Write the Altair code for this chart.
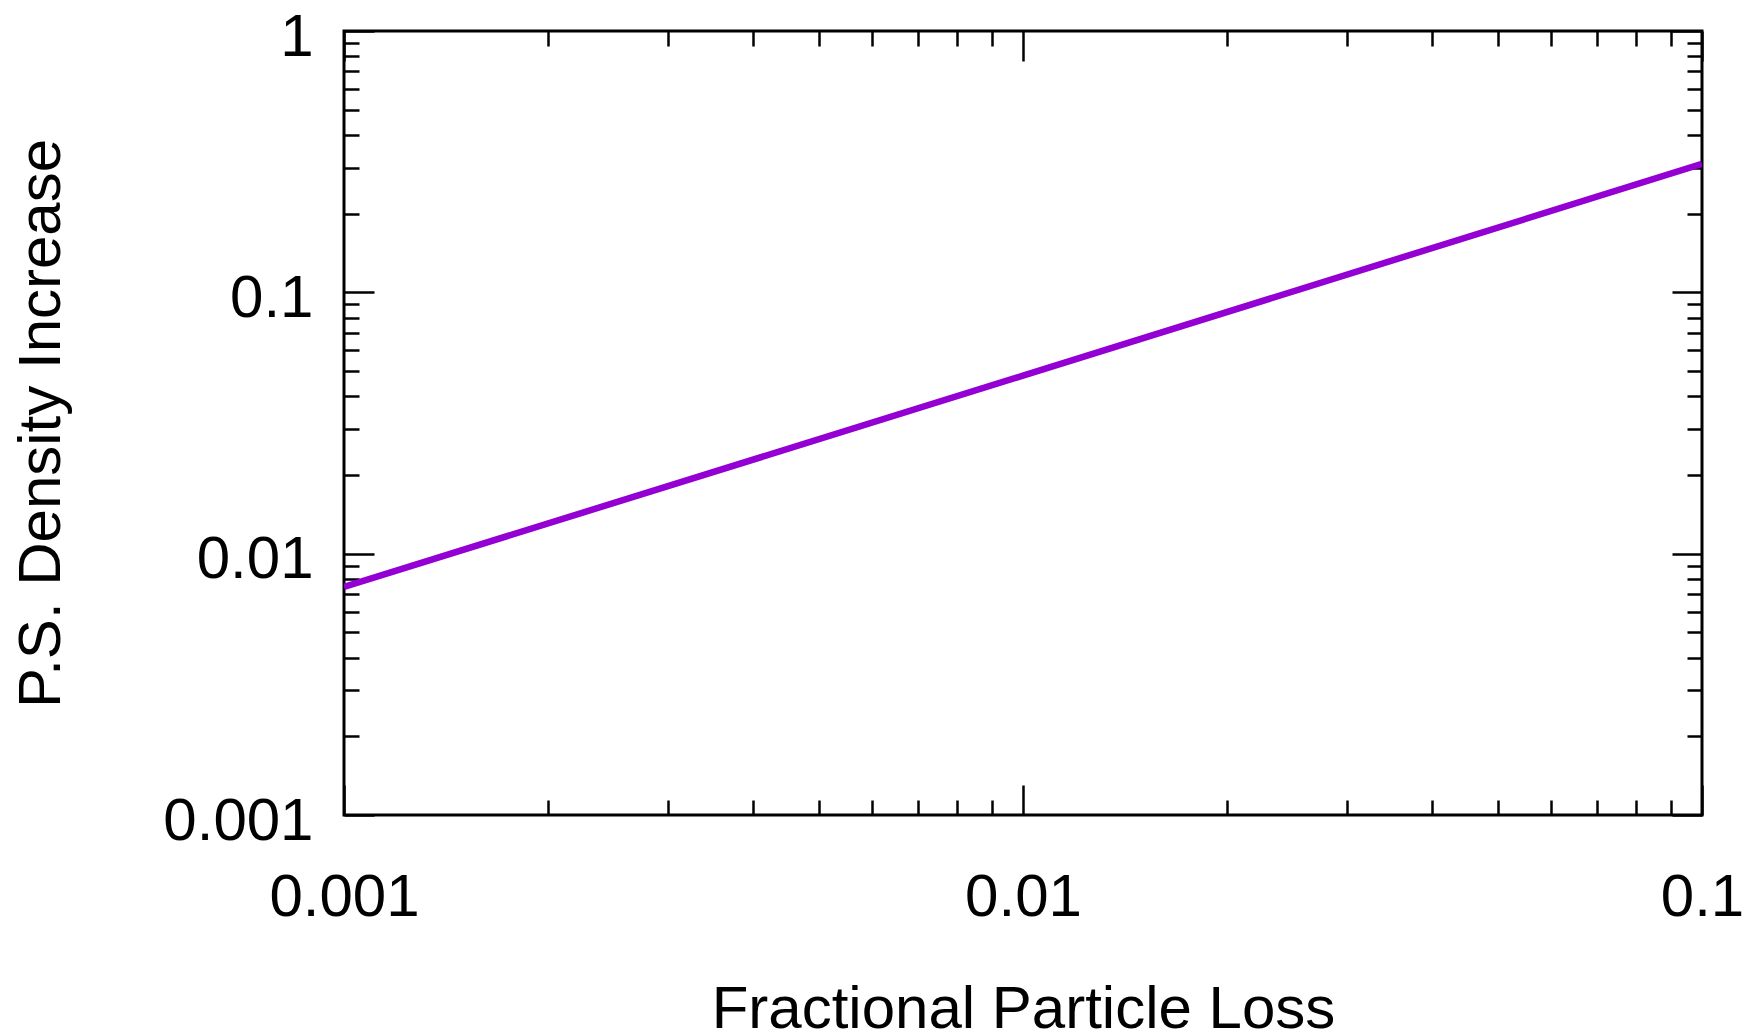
import altair as alt
import pandas as pd

# Data (straight line on log-log axes)
loss = [0.001, 0.01, 0.1]
density = [0.00746, 0.0480, 0.310]

x_major = [0.001, 0.01, 0.1]
x_minor = [m * d for d in (0.001, 0.01) for m in range(2, 10)]
y_major = [0.001, 0.01, 0.1, 1]
y_minor = [m * d for d in (0.001, 0.01, 0.1) for m in range(2, 10)]

df = pd.DataFrame({"loss": loss, "density": density})

W, H = 1358, 784
FONT = "Liberation Sans"

xs = alt.Scale(type="log", domain=[0.001, 0.1], nice=False)
ys = alt.Scale(type="log", domain=[0.001, 1], nice=False)

base = alt.Chart(df)

labels_layer = base.mark_line(color="#9400D3", strokeWidth=6.5, clip=True).encode(
    x=alt.X("loss:Q", scale=xs, axis=alt.Axis(
        title="Fractional Particle Loss", values=x_major, format="~g",
        orient="bottom", ticks=False, tickSize=0, domain=False, grid=False,
        labelFont=FONT, labelFontSize=60, labelColor="black", labelPadding=53,
        labelFlush=False, labelOverlap=False, labelBaseline="top",
        titleFont=FONT, titleFontSize=60, titleFontWeight="normal", titleColor="black",
        titleX=W / 2, titleY=212, titleBaseline="alphabetic", titleAlign="center")),
    y=alt.Y("density:Q", scale=ys, axis=alt.Axis(
        title="P.S. Density Increase", values=y_major, format="~g",
        orient="left", ticks=False, tickSize=0, domain=False, grid=False,
        labelFont=FONT, labelFontSize=60, labelColor="black", labelPadding=31,
        labelFlush=False, labelOverlap=False, labelBaseline="middle", labelOffset=6,
        titleFont=FONT, titleFontSize=60, titleFontWeight="normal", titleColor="black",
        titleAngle=270, titleX=-285, titleY=H / 2, titleBaseline="alphabetic",
        titleAlign="center")),
)


def tick_axis(values, orient, offset, size):
    return alt.Axis(title=None, values=values, orient=orient, offset=offset,
                    labels=False, domain=False, grid=False, ticks=True,
                    tickSize=size, tickWidth=2.5, tickColor="black")


def tick_layer(xv, xorient, xoff, yv, yorient, yoff, size):
    return base.mark_line(opacity=0).encode(
        x=alt.X("loss:Q", scale=xs, axis=tick_axis(xv, xorient, xoff, size)),
        y=alt.Y("density:Q", scale=ys, axis=tick_axis(yv, yorient, yoff, size)),
    )


layers = [
    labels_layer,
    # inward ticks on bottom and left edges
    tick_layer(x_major, "top", -H, y_major, "right", -W, 30),
    tick_layer(x_minor, "top", -H, y_minor, "right", -W, 15),
    # inward ticks on top and right edges
    tick_layer(x_major, "bottom", -H, y_major, "left", -W, 30),
    tick_layer(x_minor, "bottom", -H, y_minor, "left", -W, 15),
]

chart = alt.layer(*layers).resolve_axis(x="independent", y="independent").properties(
    width=W, height=H,
    autosize=alt.AutoSizeParams(type="none"),
    padding={"left": 344, "top": 31, "right": 46, "bottom": 218},
    background="white",
).configure_view(stroke="black", strokeWidth=3)

chart.save("out.html", embed_options={"renderer": "svg", "actions": False})
